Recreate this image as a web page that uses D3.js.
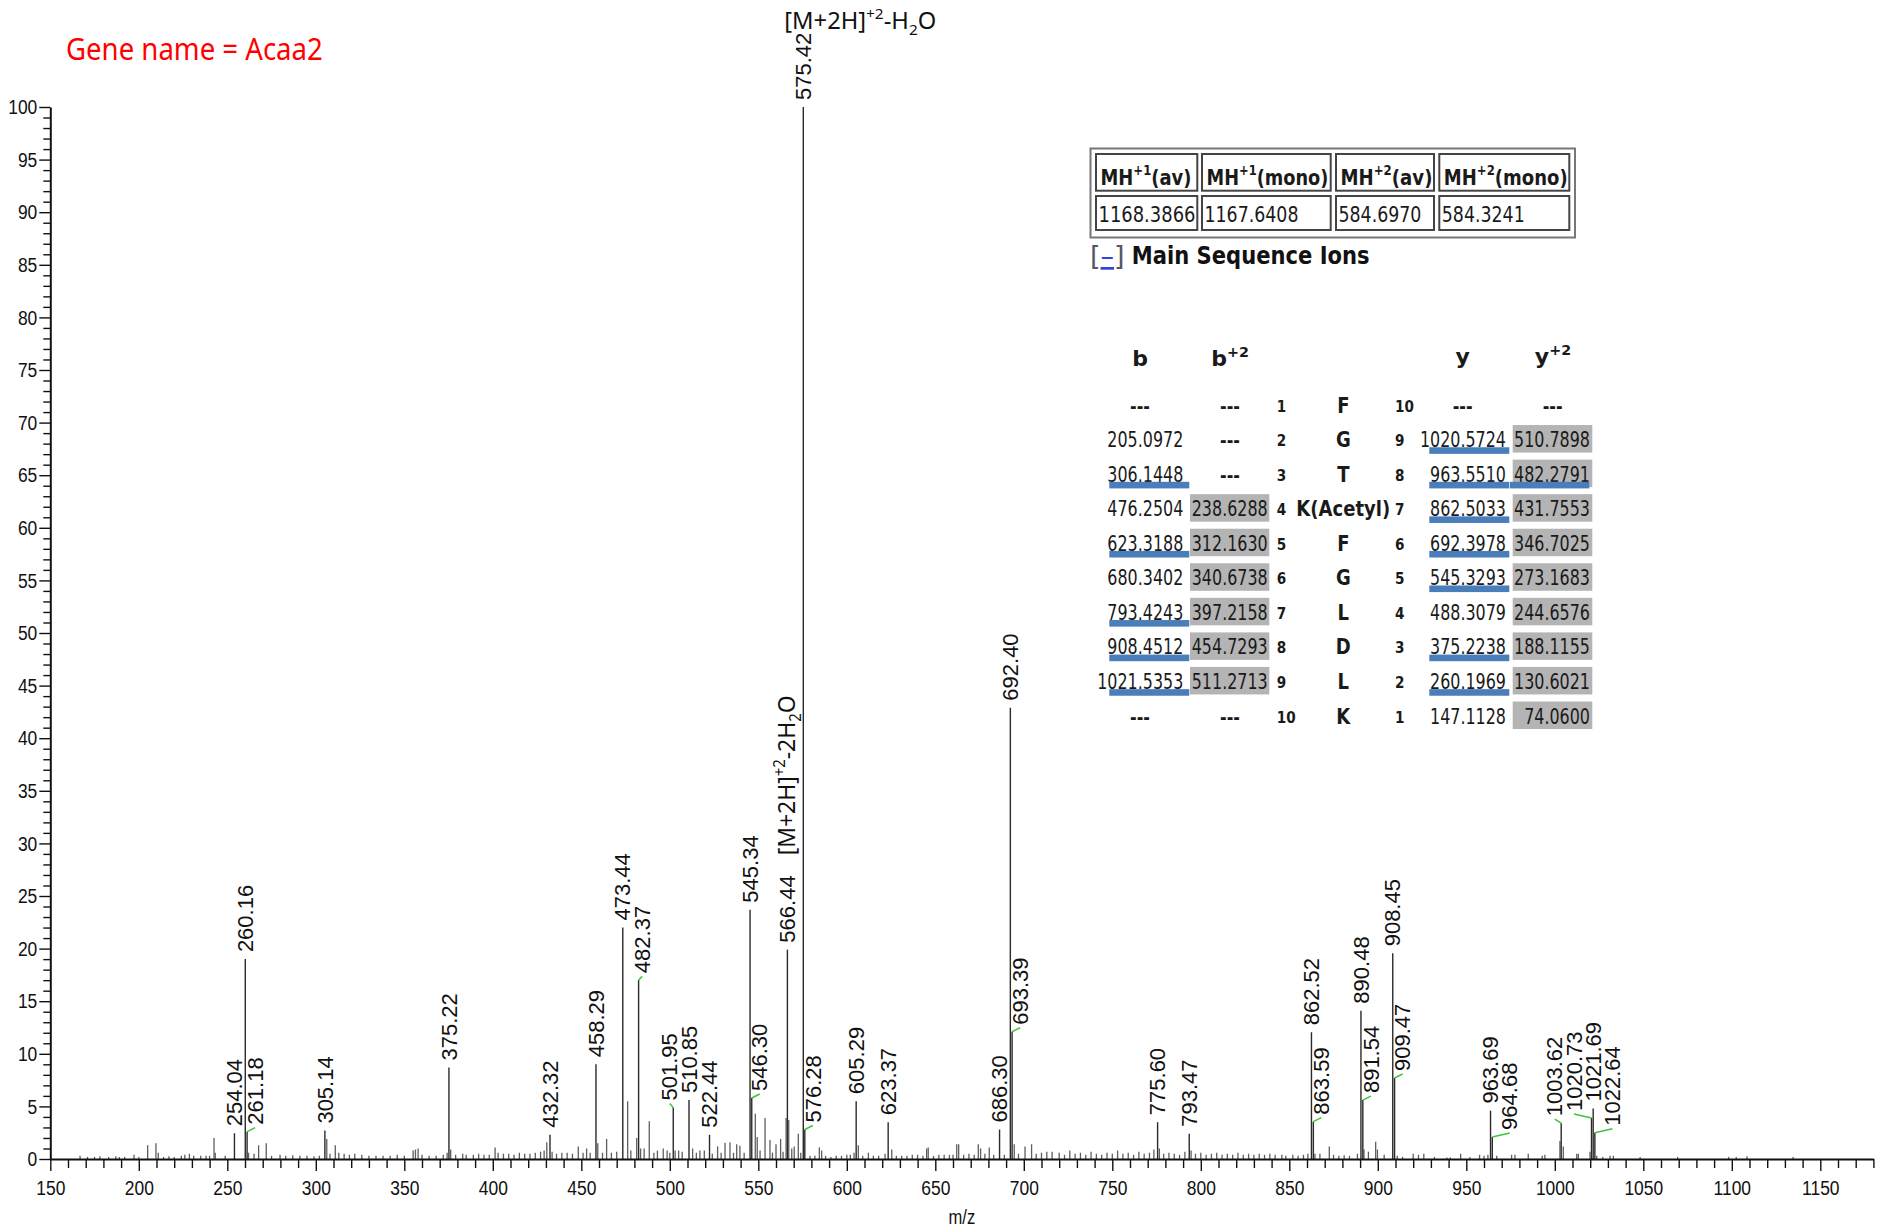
<!DOCTYPE html>
<html>
<head>
<meta charset="utf-8">
<script src="https://cdn.jsdelivr.net/npm/d3@7"></script>
<style>
  body { margin: 0; background: #fff; }
  svg { display: block; }
</style>
</head>
<body>
<svg id="chart" width="1877" height="1228"></svg>
<script>
// labelled peaks: m/z and relative abundance (%)
const peakMz = [254.04, 260.16, 261.18, 305.14, 375.22, 432.32, 458.29, 473.44, 482.37, 501.95,
  510.85, 522.44, 545.34, 546.30, 566.44, 575.42, 576.28, 605.29, 623.37, 686.30,
  692.40, 693.39, 775.60, 793.47, 862.52, 863.59, 890.48, 891.54, 908.45, 909.47,
  963.69, 964.68, 1003.62, 1020.73, 1021.69, 1022.64];
const peakInt = [2.45, 19.0, 2.6, 2.7, 8.7, 2.3, 9.0, 22.0, 17.0, 4.9,
  5.6, 2.3, 23.7, 5.8, 19.9, 100, 2.8, 5.5, 3.5, 2.8,
  42.9, 12.1, 3.5, 2.4, 12.05, 3.55, 14.1, 5.6, 19.55, 7.7,
  4.6, 2.1, 3.4, 3.9, 4.8, 2.5];

// unlabelled peaks
const minorMz = [166.8, 171, 175, 178, 183, 187, 189, 192, 197.3, 200, 205, 209.7, 211, 214, 217, 220, 224, 226, 228.6, 231, 235, 238, 240,
  242.5, 243.2, 248.8, 262, 265.1, 267.7, 272, 275, 279.8, 283, 287, 291, 295, 299, 302, 306.2, 308, 311, 313, 316, 319, 322, 326, 330,
  334, 338, 342, 346, 350, 355, 356.3, 357.8, 360, 364, 368, 372, 374.2, 376.2, 379, 383, 385, 389, 392, 395, 398, 401.3, 403, 406, 409,
  412, 415, 418, 421, 424, 427, 429, 430.5, 433.5, 436, 439, 442, 445, 448.3, 451, 453, 455, 459.3, 462, 464.3, 467, 470, 476.2, 478,
  481.3, 483.5, 485.5, 488.4, 491, 493, 496.3, 498.5, 500, 503, 505, 507, 512.9, 515, 517, 519.5, 524, 527, 529, 531.2, 534, 536, 537.8,
  539.6, 542, 548.3, 549.4, 551, 553.8, 556.6, 558, 560, 562.6, 564, 565.7, 567.2, 568.9, 570.3, 572.6, 574, 579.2, 582, 584.5, 585.8,
  588, 591, 594, 597, 600, 602, 604.1, 606.5, 609, 612.2, 615, 618, 621.6, 625.4, 628, 631, 634, 637, 640, 643, 645.1, 646, 649, 652,
  655, 658, 660, 662.1, 663.2, 666, 669, 672, 674.3, 675.6, 678, 680.5, 683, 689, 694.6, 697, 700.7, 704.4, 707, 710, 713, 716,
  720, 723, 726, 729, 732, 735, 738, 741, 744, 747, 750, 753, 756, 759, 762, 765, 768, 771, 773.5, 776.6, 779, 782, 785, 788, 791,
  794.5, 797, 800, 803, 806, 809, 812, 815, 818, 821, 824, 827, 830, 833, 836, 839, 842, 848, 852, 855, 858, 860.5,
  845.8, 864.5, 867.3, 872.6, 875, 878, 881, 884, 888.5, 892.2, 894.7, 898.8, 899.8, 903.6, 911, 914, 920, 923, 926, 932, 939, 941,
  946.8, 952, 957.5, 960, 962.2, 967.2, 975.6, 977.5, 985, 992.9, 994.4, 1002.9, 1004.8, 1012.4, 1013.3, 1019.9, 1023.7, 1027.1,
  1031.2, 1033.1, 1048.2, 1069.4, 1098.2, 1102.5, 1108.6, 1134.6];
const minorInt = [0.3, 0.2, 0.2, 0.25, 0.2, 0.25, 0.2, 0.2, 0.4, 0.2, 1.3, 1.5, 0.6, 0.2, 0.25, 0.2, 0.3, 0.4, 0.5, 0.3, 0.3, 0.3, 0.3,
  2.0, 0.6, 0.3, 0.6, 0.5, 1.3, 1.5, 0.3, 0.4, 0.3, 0.35, 0.3, 0.3, 0.25, 0.3, 1.9, 0.5, 1.3, 0.6, 0.5, 0.4, 0.5, 0.4, 0.3,
  0.3, 0.3, 0.3, 0.4, 0.3, 0.8, 0.9, 1.0, 0.4, 0.3, 0.3, 0.4, 0.6, 0.9, 0.4, 0.5, 0.4, 0.4, 0.5, 0.4, 0.4, 1.1, 0.6, 0.5, 0.5,
  0.4, 0.6, 0.5, 0.5, 0.6, 0.7, 0.8, 1.6, 0.7, 0.5, 0.6, 0.6, 0.5, 1.2, 0.6, 1.0, 0.6, 1.5, 0.6, 1.9, 0.6, 0.7, 5.5, 0.8,
  2.0, 1.0, 1.0, 3.6, 0.6, 0.8, 1.0, 0.8, 0.6, 0.8, 0.8, 0.7, 1.0, 0.6, 0.8, 0.8, 0.5, 1.2, 0.6, 1.55, 1.6, 0.6, 1.4,
  1.25, 0.6, 4.3, 2.1, 0.8, 3.9, 1.8, 0.6, 1.4, 1.9, 0.7, 3.9, 3.7, 1.0, 1.2, 2.4, 0.6, 0.3, 0.3, 1.1, 0.8,
  0.3, 0.2, 0.3, 0.3, 0.4, 0.4, 0.6, 1.3, 0.3, 0.6, 0.3, 0.3, 0.5, 0.9, 0.3, 0.3, 0.3, 0.4, 0.4, 0.3, 1.0, 1.1, 0.3, 0.4,
  0.4, 0.4, 0.4, 1.4, 1.4, 0.4, 0.5, 0.4, 1.4, 1.0, 0.5, 1.1, 0.4, 0.4, 1.4, 0.5, 1.2, 1.4, 0.5, 0.6, 0.7, 0.7,
  0.6, 0.4, 0.8, 0.5, 0.6, 0.4, 0.7, 0.5, 0.4, 0.6, 0.5, 0.8, 0.5, 0.6, 0.4, 0.7, 0.5, 0.6, 0.9, 1.0, 0.5, 0.6, 0.5, 0.4, 0.7,
  0.8, 0.5, 0.6, 0.4, 0.5, 0.6, 0.4, 0.5, 0.4, 0.6, 0.4, 0.5, 0.4, 0.5, 0.4, 0.5, 0.4, 0.3, 0.4, 0.3, 0.4, 0.5,
  0.4, 0.5, 0.5, 1.2, 0.4, 0.3, 0.35, 0.3, 0.5, 0.9, 0.7, 1.65, 0.9, 0.4, 0.3, 0.2, 0.5, 0.4, 0.5, 0.2, 0.15, 0.15,
  0.5, 0.2, 0.4, 0.3, 0.4, 0.3, 0.4, 0.4, 0.5, 0.3, 0.4, 1.7, 1.2, 0.5, 0.5, 0.7, 0.3, 0.2,
  0.3, 0.3, 0.2, 0.2, 0.2, 0.2, 0.25, 0.2];

// precursor table
const massCharge = ["+1", "+1", "+2", "+2"];
const massKind = ["(av)", "(mono)", "(av)", "(mono)"];
const massValues = ["1168.3866", "1167.6408", "584.6970", "584.3241"];

// fragment ion table
const bIons = ["---", "205.0972", "306.1448", "476.2504", "623.3188", "680.3402", "793.4243", "908.4512", "1021.5353", "---"];
const b2Ions = ["---", "---", "---", "238.6288", "312.1630", "340.6738", "397.2158", "454.7293", "511.2713", "---"];
const residues = ["F", "G", "T", "K(Acetyl)", "F", "G", "L", "D", "L", "K"];
const yIons = ["---", "1020.5724", "963.5510", "862.5033", "692.3978", "545.3293", "488.3079", "375.2238", "260.1969", "147.1128"];
const y2Ions = ["---", "510.7898", "482.2791", "431.7553", "346.7025", "273.1683", "244.6576", "188.1155", "130.6021", "74.0600"];
const bMatched = [0, 0, 1, 0, 1, 0, 1, 1, 1, 0];
const b2Shaded = [0, 0, 0, 1, 1, 1, 1, 1, 1, 0];
const yMatched = [0, 1, 1, 1, 1, 1, 0, 1, 1, 0];
const y2Shaded = [0, 1, 1, 1, 1, 1, 1, 1, 1, 1];
const y2Matched = [0, 0, 1, 0, 0, 0, 0, 0, 0, 0];

const W = 1877, H = 1228;
const svg = d3.select("#chart");
svg.append("rect").attr("width", W).attr("height", H).attr("fill", "#fff");

const x = d3.scaleLinear().domain([150, 1180]).range([50.3, 1873.4]);
const y = d3.scaleLinear().domain([0, 100]).range([1159, 107]);

const arial = "'Liberation Sans', Arial, sans-serif";
const tahoma = "'DejaVu Sans', Verdana, sans-serif";
const squeeze = 0.83; // axis numbers are drawn narrow in the original

// text helper: segments can be plain strings or {sup:..} / {sub:..}
function put(g, segs, ax, ay, o) {
  const t = g.append("text")
    .attr("text-anchor", o.anchor || "start")
    .attr("font-family", o.family || tahoma)
    .attr("font-size", o.size)
    .attr("font-weight", o.bold ? "bold" : null)
    .attr("fill", o.fill || "#1a1a1a");
  let shift = 0;
  [].concat(segs).forEach(s => {
    if (typeof s === "string") {
      t.append("tspan").attr("dy", -shift).text(s); shift = 0;
    } else if (s.sup) {
      t.append("tspan").attr("dy", -o.size * 0.42 - shift).attr("font-size", o.size * 0.65).text(s.sup);
      shift = -o.size * 0.42;
    } else if (s.sub) {
      t.append("tspan").attr("dy", o.size * 0.25 - shift).attr("font-size", o.size * 0.65).text(s.sub);
      shift = o.size * 0.25;
    }
  });
  let k = o.k || 1;
  if (o.width) k = o.width / t.node().getBBox().width;
  t.attr("transform", `translate(${ax},${ay})${o.rotate ? " rotate(-90)" : ""} scale(${k},1)`);
  return t;
}

// ---- peaks ----
svg.append("g").selectAll("line").data(minorMz).join("line")
  .attr("x1", d => x(d)).attr("x2", d => x(d))
  .attr("y1", y(0)).attr("y2", (d, i) => y(minorInt[i]))
  .attr("stroke", "#5e5e5e").attr("stroke-width", 1.3);

svg.append("g").selectAll("line").data(peakMz).join("line")
  .attr("x1", d => x(d)).attr("x2", d => x(d))
  .attr("y1", y(0)).attr("y2", (d, i) => y(peakInt[i]))
  .attr("stroke", "#2a2a2a").attr("stroke-width", 1.4);

// ---- axes ----
const yAxis = d3.axisLeft(y).tickValues(d3.range(0, 101)).tickFormat(d => d % 5 === 0 ? d : "").tickSizeOuter(0);
const gy = svg.append("g").attr("transform", `translate(${x(150)},0)`).call(yAxis)
  .attr("font-family", arial).attr("font-size", 21);
gy.select(".domain").attr("stroke", "#111").attr("stroke-width", 2);
gy.selectAll(".tick line").attr("x2", d => d % 5 === 0 ? -11 : -7).attr("stroke", "#111").attr("stroke-width", 1.4);
gy.selectAll(".tick text").attr("x", 0).attr("fill", "#111")
  .attr("transform", `translate(-13,0) scale(${squeeze},1)`);

const xAxis = d3.axisBottom(x).tickValues(d3.range(150, 1181, 10)).tickFormat(d => d % 50 === 0 ? d : "").tickSizeOuter(0);
const gx = svg.append("g").attr("transform", `translate(0,${y(0)})`).call(xAxis)
  .attr("font-family", arial).attr("font-size", 21);
gx.select(".domain").attr("stroke", "#111").attr("stroke-width", 2);
gx.selectAll(".tick line").attr("y2", d => d % 50 === 0 ? 12 : 9).attr("stroke", "#111").attr("stroke-width", 1.4);
gx.selectAll(".tick text").attr("y", 0).attr("fill", "#111")
  .attr("transform", `translate(0,21) scale(${squeeze},1)`);

svg.append("text").attr("x", x(150) + (x(1180) - x(150)) * 0.5).attr("y", 1224)
  .attr("text-anchor", "middle").attr("font-family", arial).attr("font-size", 20).attr("fill", "#111")
  .attr("transform", `translate(${(x(150) + (x(1180) - x(150)) * 0.5) * (1 - squeeze)},0) scale(${squeeze},1)`)
  .text("m/z");

// ---- peak labels, placed greedily from the tallest peak down ----
const labG = svg.append("g");
const gap = 7, half = 9.5;
const placed = [];
const order = d3.range(peakMz.length).sort((a, b) => peakInt[b] - peakInt[a]);
order.forEach(i => {
  const px = x(peakMz[i]), pt = y(peakInt[i]);
  const t = labG.append("text").attr("font-family", arial).attr("font-size", 22).attr("fill", "#111")
    .attr("dy", "0.35em").text(peakMz[i].toFixed(2));
  const len = t.node().getComputedTextLength();
  const bottom = pt - gap, top = bottom - len;
  const hits = cx =>
    placed.some(b => cx - half < b.x1 && cx + half > b.x0 && top < b.y1 && bottom > b.y0) ||
    peakMz.some((m, j) => j !== i && Math.abs(x(m) - cx) < half && y(peakInt[j]) < bottom);
  let cx = px;
  for (let s = 0; s <= 80; s += 0.5) {
    if (!hits(px + s)) { cx = px + s; break; }
    if (!hits(px - s)) { cx = px - s; break; }
  }
  t.attr("transform", `translate(${cx},${bottom}) rotate(-90)`);
  placed.push({ x0: cx - half, x1: cx + half, y0: top, y1: bottom });
  if (Math.abs(cx - px) > 0.6) {
    labG.append("line").attr("x1", px).attr("y1", pt).attr("x2", cx).attr("y2", pt - 4)
      .attr("stroke", "#3cc43c").attr("stroke-width", 1.5);
  }
  if (peakMz[i] === 566.44) {
    // doubly charged precursor minus two waters, stacked above its label
    put(labG, ["[M+2H]", { sup: "+2" }, "-2H", { sub: "2" }, "O"], cx + 8, top - 20,
      { family: "'Noto Sans', sans-serif", size: 24, fill: "#111", rotate: true, width: 160 });
    placed.push({ x0: cx - half, x1: cx + half, y0: top - 180, y1: top - 20 });
  }
});

// precursor minus water, next to the base peak
put(svg, ["[M+2H]", { sup: "+2" }, "-H", { sub: "2" }, "O"], x(575.42) - 19, 29,
  { family: "'Noto Sans', sans-serif", size: 23, fill: "#111", width: 152 });

// gene name
put(svg, "Gene name = Acaa2", 66, 60, { family: "'Noto Sans', sans-serif", size: 30, fill: "#ff0000", width: 257 });

// ---- precursor mass table ----
const tab = svg.append("g");
tab.append("rect").attr("x", 1090.5).attr("y", 148.5).attr("width", 484.5).attr("height", 89)
  .attr("fill", "none").attr("stroke", "#777").attr("stroke-width", 2);
const cellX = [1096, 1202, 1336, 1439.3], cellW = [101.3, 128.7, 98, 130];
const headW = [91, 122, 92, 124], valW = [97, 94, 83, 83];
massValues.forEach((v, i) => {
  tab.append("rect").attr("x", cellX[i]).attr("y", 154).attr("width", cellW[i]).attr("height", 36.7)
    .attr("fill", "none").attr("stroke", "#444").attr("stroke-width", 2);
  tab.append("rect").attr("x", cellX[i]).attr("y", 196).attr("width", cellW[i]).attr("height", 34)
    .attr("fill", "none").attr("stroke", "#444").attr("stroke-width", 2);
  put(tab, ["MH", { sup: massCharge[i] }, massKind[i]], cellX[i] + 4.5, 184.5, { size: 22, bold: true, width: headW[i] });
  put(tab, v, cellX[i] + 2.5, 221.5, { size: 21, width: valW[i] });
});
const tg = tab.append("text").attr("x", 1090).attr("y", 265).attr("font-family", tahoma).attr("font-size", 27);
tg.append("tspan").attr("fill", "#556").text("[");
tg.append("tspan").attr("fill", "#3344dd").attr("text-decoration", "underline").text("\u2013");
tg.append("tspan").attr("fill", "#556").text("]");
put(tab, "Main Sequence Ions", 1131.7, 264, { size: 25, bold: true, fill: "#111", width: 238 });

// ---- fragment ion table ----
const ion = svg.append("g");
const rowY = d3.scalePoint().domain(d3.range(10)).range([405, 716]);
put(ion, "b", 1140, 366, { size: 22, bold: true, anchor: "middle" });
put(ion, ["b", { sup: "+2" }], 1230, 366, { size: 22, bold: true, anchor: "middle" });
put(ion, "y", 1462.7, 364, { size: 22, bold: true, anchor: "middle" });
put(ion, ["y", { sup: "+2" }], 1553, 364, { size: 22, bold: true, anchor: "middle" });

const probe = ion.append("text").attr("font-family", tahoma).attr("font-size", 21).text("205.0972");
const kVal = 76 / probe.node().getComputedTextLength();
probe.remove();

d3.range(10).forEach(r => {
  const yc = rowY(r), base = yc + 7.5;
  if (b2Shaded[r]) ion.append("rect").attr("x", 1190).attr("y", yc - 14.5).attr("width", 79.3).attr("height", 27.5).attr("fill", "#b4b4b4");
  if (y2Shaded[r]) ion.append("rect").attr("x", 1512.7).attr("y", yc - 14.5).attr("width", 79.6).attr("height", 27.5).attr("fill", "#b4b4b4");
  const cell = (v, ex, cxm) => v === "---"
    ? put(ion, "---", cxm, base, { size: 20, bold: true, anchor: "middle", k: 0.8 })
    : put(ion, v, ex, base, { size: 21, anchor: "end", k: kVal });
  cell(bIons[r], 1183.3, 1140);
  cell(b2Ions[r], 1267.7, 1230);
  cell(yIons[r], 1506, 1462.7);
  cell(y2Ions[r], 1590, 1552.7);
  put(ion, String(r + 1), 1276.7, base - 1, { size: 16, bold: true, k: 0.85 });
  put(ion, String(10 - r), 1395, base - 1, { size: 16, bold: true, k: 0.85 });
  put(ion, residues[r], 1343.3, base, { size: 22, bold: true, anchor: "middle", k: 0.82 });
  if (bMatched[r]) ion.append("rect").attr("x", 1109.3).attr("y", yc + 7.7).attr("width", 80).attr("height", 6.6).attr("fill", "#4a7ebb");
  if (yMatched[r]) ion.append("rect").attr("x", 1429.3).attr("y", yc + 7.7).attr("width", 80).attr("height", 6.6).attr("fill", "#4a7ebb");
  if (y2Matched[r]) ion.append("rect").attr("x", 1510).attr("y", yc + 7.7).attr("width", 79.3).attr("height", 6.6).attr("fill", "#4a7ebb");
});
</script>
</body>
</html>
